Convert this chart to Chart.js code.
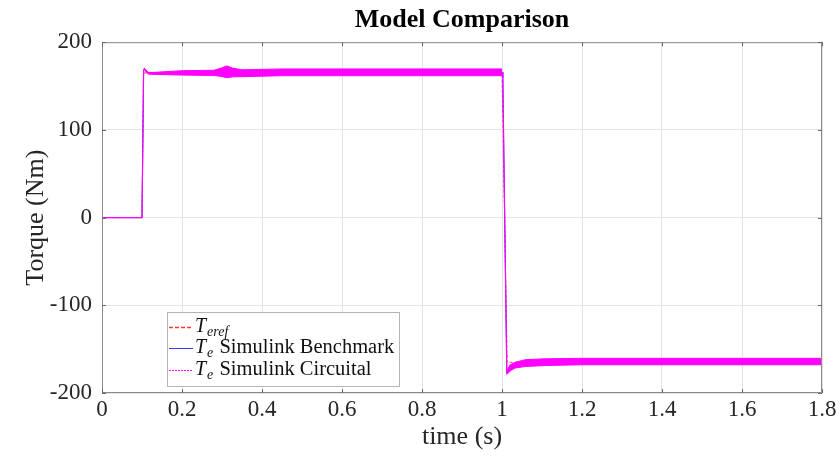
<!DOCTYPE html>
<html>
<head>
<meta charset="utf-8">
<script src="https://cdn.jsdelivr.net/npm/chart.js@4.4.1/dist/chart.umd.min.js"></script>
<style>
  html, body { margin: 0; padding: 0; background: #ffffff; }
  #wrap { width: 840px; height: 456px; }
</style>
</head>
<body>
<div id="wrap"><canvas id="c" width="840" height="456"></canvas></div>
<script>
// ---------------- data ----------------
const chartTitle = 'Model Comparison';
const xTitle = 'time (s)';
const yTitle = 'Torque (Nm)';
const xTicks = [0, 0.2, 0.4, 0.6, 0.8, 1, 1.2, 1.4, 1.6, 1.8];
const yTicks = [-200, -100, 0, 100, 200];
const seriesNames = ['T_{eref}', 'T_{e} Simulink Benchmark', 'T_{e} Simulink Circuital'];

// reference torque
const timeRef   = [0, 0.1, 0.104, 1.0, 1.013, 1.8];
const torqueRef = [0, 0, 165, 165, -165, -165];

// Simulink benchmark (mean trace)
const timeBench   = [0, 0.1, 0.104, 0.106, 0.116, 0.13, 0.2, 0.28, 0.305, 0.312, 0.325, 0.35, 0.45, 1.0, 1.002, 1.012, 1.02, 1.033, 1.058, 1.108, 1.2, 1.8];
const torqueBench = [0, 0, 168, 170, 164.5, 164.5, 165, 165, 166, 166.5, 165, 164.6, 165.6, 165.6, 160, -177, -171, -168, -166, -164.8, -164.2, -164.2];

// Simulink circuital (mean trace)
const timeCirc   = [0, 0.1, 0.104, 0.106, 0.116, 0.13, 0.2, 0.28, 0.305, 0.312, 0.325, 0.35, 0.45, 1.0, 1.002, 1.012, 1.02, 1.033, 1.058, 1.108, 1.2, 1.8];
const torqueCirc = [0, 0, 168, 170, 164.6, 164.5, 165, 165, 166, 166.3, 165.5, 164.6, 165.6, 165.6, 160, -177, -171.5, -168.2, -166, -164.8, -164.2, -164.2];

// circuital ripple envelope (positive torque interval)
const timeBandUp = [0.106, 0.116, 0.13, 0.2, 0.28, 0.298, 0.312, 0.326, 0.35, 0.45, 1.0];
const bandUpHigh = [170, 165.6, 165.6, 167.5, 168, 170.5, 173, 170.5, 168.5, 169.5, 169.5];
const bandUpLow  = [168, 163.6, 163.3, 162.5, 162, 161, 159.5, 160.5, 160.7, 161.8, 161.8];

// circuital ripple envelope (negative torque interval)
const timeBandDn = [1.012, 1.02, 1.033, 1.058, 1.108, 1.2, 1.8];
const bandDnHigh = [-175, -168, -165, -162, -161, -160.5, -160.5];
const bandDnLow  = [-179, -175, -171.5, -169.8, -168.7, -167.8, -167.8];

// ---------------- helpers ----------------
const pts = (xs, ys) => xs.map((x, i) => ({ x: x, y: ys[i] }));
const MAGENTA = '#ff00ff';
const SERIF = "'Liberation Serif', 'Times New Roman', serif";

const boxPlugin = {
  id: 'matlabBox',
  afterDatasetsDraw(chart) {
    const { ctx, chartArea: a, scales } = chart;
    ctx.save();
    ctx.strokeStyle = '#8a8a8a';
    ctx.lineWidth = 1;
    ctx.strokeRect(a.left + 0.5, a.top + 0.5, a.right - a.left - 1, a.bottom - a.top - 1);
    ctx.strokeStyle = '#666666';
    const tl = 4;
    ctx.beginPath();
    scales.x.ticks.forEach(t => {
      const px = Math.round(scales.x.getPixelForValue(t.value)) + 0.5;
      ctx.moveTo(px, a.bottom); ctx.lineTo(px, a.bottom - tl);
      ctx.moveTo(px, a.top); ctx.lineTo(px, a.top + tl);
    });
    scales.y.ticks.forEach(t => {
      const py = Math.round(scales.y.getPixelForValue(t.value)) + 0.5;
      ctx.moveTo(a.left, py); ctx.lineTo(a.left + tl, py);
      ctx.moveTo(a.right, py); ctx.lineTo(a.right - tl, py);
    });
    ctx.stroke();
    ctx.restore();
  }
};

const legendPlugin = {
  id: 'mathLegend',
  afterDraw(chart) {
    const { ctx, chartArea: a } = chart;
    const entries = chart.data.datasets.filter(d => d.legendEntry);
    const bx = Math.round(a.left + 65), by = Math.round(a.top + 270), bw = 232, bh = 74;
    ctx.save();
    ctx.fillStyle = '#ffffff';
    ctx.fillRect(bx, by, bw, bh);
    ctx.strokeStyle = '#b5b5b5';
    ctx.lineWidth = 1;
    ctx.strokeRect(bx + 0.5, by + 0.5, bw, bh);
    const rowY = [15, 36, 58];
    entries.forEach((d, i) => {
      const y = by + rowY[i];
      ctx.beginPath();
      ctx.strokeStyle = d.legendColor || d.borderColor;
      ctx.lineWidth = d.legendWidth || 1;
      ctx.setLineDash(d.legendDash || []);
      ctx.moveTo(bx + 2, y + 0.5);
      ctx.lineTo(bx + 26, y + 0.5);
      ctx.stroke();
      ctx.setLineDash([]);
      const m = /^(\w)_\{(\w+)\}(.*)$/.exec(d.label);
      let x = bx + 28;
      ctx.fillStyle = '#111111';
      ctx.textBaseline = 'middle';
      ctx.textAlign = 'left';
      ctx.font = 'italic 20px ' + SERIF;
      ctx.fillText(m[1], x, y);
      x += ctx.measureText(m[1]).width + 1;
      ctx.font = 'italic 14px ' + SERIF;
      ctx.fillText(m[2], x, y + 5);
      x += ctx.measureText(m[2]).width + 1;
      ctx.font = '20.5px ' + SERIF;
      ctx.fillText(m[3], x, y);
    });
    ctx.restore();
  }
};

new Chart(document.getElementById('c'), {
  type: 'line',
  data: {
    datasets: [
      { label: seriesNames[0], legendEntry: true, legendDash: [4, 2], legendColor: '#ff3a3a', legendWidth: 1.5,
        data: pts(timeRef, torqueRef), borderColor: '#ff4040', borderWidth: 1,
        borderDash: [3, 2], pointRadius: 0, fill: false, order: 4 },
      { label: seriesNames[1], legendEntry: true,
        data: pts(timeBench, torqueBench), borderColor: '#3a3aff', borderWidth: 1,
        pointRadius: 0, fill: false, order: 3 },
      { label: seriesNames[2], legendEntry: true, legendDash: [2, 1],
        data: pts(timeCirc, torqueCirc), borderColor: MAGENTA, borderWidth: 1.2,
        pointRadius: 0, fill: false, order: 2 },
      { label: 'band up high', data: pts(timeBandUp, bandUpHigh), borderColor: MAGENTA,
        borderWidth: 1, pointRadius: 0, fill: false, order: 1 },
      { label: 'band up low', data: pts(timeBandUp, bandUpLow), borderColor: MAGENTA,
        backgroundColor: MAGENTA, borderWidth: 1, pointRadius: 0, fill: '-1', order: 1 },
      { label: 'band dn high', data: pts(timeBandDn, bandDnHigh), borderColor: MAGENTA,
        borderWidth: 1, pointRadius: 0, fill: false, order: 1 },
      { label: 'band dn low', data: pts(timeBandDn, bandDnLow), borderColor: MAGENTA,
        backgroundColor: MAGENTA, borderWidth: 1, pointRadius: 0, fill: '-1', order: 1 }
    ]
  },
  options: {
    responsive: false,
    animation: false,
    devicePixelRatio: 1,
    layout: { padding: { left: 0, right: 18, top: 0, bottom: 0 } },
    elements: { line: { tension: 0 } },
    plugins: {
      legend: { display: false },
      tooltip: { enabled: false },
      title: {
        display: true, text: chartTitle, color: '#000000', fullSize: false,
        font: { family: SERIF, size: 26, weight: 'bold' },
        padding: { top: 5, bottom: 6 }
      }
    },
    scales: {
      x: {
        type: 'linear', min: 0, max: 1.8,
        afterBuildTicks: s => { s.ticks = xTicks.map(v => ({ value: v })); },
        afterFit: s => { s.height = 63; },
        ticks: { color: '#262626', font: { family: SERIF, size: 23 }, padding: 3,
                 maxRotation: 0, autoSkip: false, callback: v => String(v) },
        grid: { color: '#e3e3e3', drawTicks: false },
        border: { display: false },
        title: { display: true, text: xTitle, color: '#262626',
                 font: { family: SERIF, size: 26 }, padding: { top: 0, bottom: 3 } }
      },
      y: {
        type: 'linear', min: -200, max: 200,
        afterBuildTicks: s => { s.ticks = yTicks.map(v => ({ value: v })); },
        afterFit: s => { s.width = 102; },
        ticks: { color: '#262626', font: { family: SERIF, size: 23 }, padding: 10,
                 autoSkip: false, callback: v => String(v) },
        grid: { color: '#e3e3e3', drawTicks: false },
        border: { display: false },
        title: { display: true, text: yTitle, color: '#262626',
                 font: { family: SERIF, size: 26 }, padding: { top: 21, bottom: 0 } }
      }
    }
  },
  plugins: [boxPlugin, legendPlugin]
});
</script>
</body>
</html>
